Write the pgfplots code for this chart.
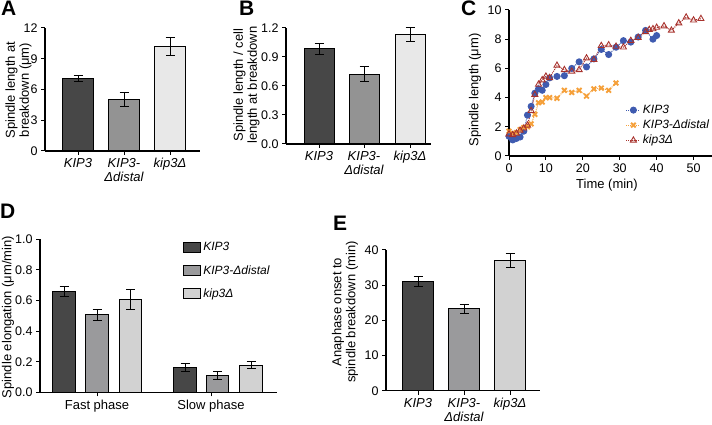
\documentclass[border=0pt]{standalone}
\usepackage{pgfplots}
\pgfplotsset{compat=1.18}
\usepackage{fontspec}
\setmainfont{Liberation Sans}
\definecolor{cdark}{HTML}{474747}
\definecolor{cmid}{HTML}{939393}
\definecolor{clight}{HTML}{E8E8E8}
\definecolor{dmid}{HTML}{9A9A9C}
\definecolor{dlight}{HTML}{D2D2D2}
\definecolor{cblue}{HTML}{3F5BB0}
\definecolor{corange}{HTML}{F5A03A}
\definecolor{cred}{HTML}{A8322D}
\pgfplotsset{
  gp/.style={scale only axis, anchor=south west, clip=false,
    axis x line*=bottom, axis y line*=left,
    axis line style={-, line width=1.1pt, black},
    tick align=outside, major tick length=4pt,
    tick style={line width=1pt, black},
    tick label style={font=\fontsize{12.5}{14}\selectfont},
    /pgf/number format/assume math mode=true},
  gpbar/.style={ybar, bar shift=0pt, draw=black, line width=1pt,
    /pgfplots/error bars/y dir=both, /pgfplots/error bars/y explicit,
    /pgfplots/error bars/error bar style={line width=1pt, black},
    /pgfplots/error bars/error mark options={rotate=90, mark size=4.5pt, line width=1pt, black}},
  catlab/.style={xticklabel style={align=center, font=\fontsize{13}{14}\selectfont\itshape}},
}
\begin{document}
\begin{tikzpicture}
\useasboundingbox (0pt,0pt) rectangle (712pt,425pt);
% ---------------- A
\begin{axis}[gp, catlab, at={(45pt,274pt)}, width=155pt, height=123pt,
  xmin=45, xmax=200, ymin=0, ymax=12, ytick={0,3,6,9,12},
  xtick={78,124,170}, xticklabels={KIP3,{KIP3-\\Δdistal},kip3Δ}]
\addplot[gpbar, bar width=31pt, fill=cdark] coordinates {(78,7.1) +- (0,0.3)};
\addplot[gpbar, bar width=31pt, fill=cmid] coordinates {(124,5.0) +- (0,0.7)};
\addplot[gpbar, bar width=31pt, fill=clight] coordinates {(170,10.2) +- (0,0.9)};
\end{axis}
% ---------------- B
\begin{axis}[gp, catlab, at={(286pt,281pt)}, width=145pt, height=116pt,
  xmin=286, xmax=431, ymin=0, ymax=1.2, ytick={0,0.3,0.6,0.9,1.2},
  yticklabel style={/pgf/number format/.cd, fixed, fixed zerofill, precision=1},
  xtick={319,364,410}, xticklabels={KIP3,{KIP3-\\Δdistal},kip3Δ}]
\addplot[gpbar, bar width=30pt, fill=cdark] coordinates {(319,0.985) +- (0,0.057)};
\addplot[gpbar, bar width=30pt, fill=cmid] coordinates {(364,0.72) +- (0,0.078)};
\addplot[gpbar, bar width=30pt, fill=clight] coordinates {(410,1.13) +- (0,0.07)};
\end{axis}
% ---------------- C
\begin{axis}[gp, at={(509pt,269pt)}, width=203pt, height=146pt,
  xmin=0, xmax=55, ymin=0, ymax=10, xtick={0,10,...,50}, ytick={0,2,...,10},
  legend style={at={(0.57,0.37)}, anchor=north west, draw=none, fill=none,
    font=\fontsize{12}{13}\selectfont\itshape, inner sep=1pt, row sep=1pt},
  legend cell align=left,
  legend image code/.code={\draw[mark repeat=2,mark phase=2,#1] plot coordinates {(0pt,0pt) (7pt,0pt) (14pt,0pt)};}]
\addplot[cblue, densely dotted, line width=1pt, mark=*, mark size=3pt, mark options={solid}] coordinates {
(0,1.35)(1,1.1)(2,1.2)(3,1.3)(4,1.7)(5,2.8)(6,3.4)(7,4.3)(8,4.6)(9,4.5)(10,4.9)(11,5.35)(13,5.45)(15,5.5)(17,6.0)(19,6.45)(21,6.1)(23,6.65)(25,7.3)(27,6.95)(29,7.45)(31,7.9)(33,7.8)(35,8.15)(37,8.6)(39,8.0)(40,8.25)};
\addlegendentry{KIP3}
\addplot[corange, densely dotted, line width=1pt, mark=x, mark size=3.3pt, mark options={solid, line width=1.9pt}] coordinates {
(0,1.7)(1,1.55)(2,1.6)(3,1.8)(4,1.95)(5,2.0)(6,2.2)(7,2.85)(8,3.65)(9,3.7)(10,4.0)(11,4.0)(13,3.95)(15,4.5)(17,4.35)(19,4.5)(21,4.1)(23,4.6)(25,4.65)(27,4.5)(29,5.0)};
\addlegendentry{KIP3-Δdistal}
\addplot[cred, densely dotted, line width=1pt, mark=triangle, mark size=3.5pt, mark options={solid, line width=0.9pt, fill=white}] coordinates {
(0,1.5)(1,1.45)(2,1.55)(3,1.75)(4,1.9)(5,2.1)(6,3.1)(7,4.2)(8,4.9)(9,5.2)(10,5.45)(11,5.35)(13,6.2)(15,5.9)(17,5.8)(19,5.9)(21,6.7)(23,6.6)(25,7.55)(27,7.6)(29,7.5)(31,7.45)(33,7.9)(35,8.1)(37,8.5)(38,8.65)(39,8.7)(40,8.8)(42,8.9)(44,8.6)(46,9.1)(48,9.5)(50,9.3)(52,9.4)};
\addlegendentry{kip3Δ}
\end{axis}
% ---------------- D
\begin{axis}[gp, at={(40pt,32.7pt)}, width=237pt, height=153pt,
  xmin=40, xmax=277, ymin=0, ymax=1, ytick={0,0.2,0.4,0.6,0.8,1.0},
  yticklabel style={/pgf/number format/.cd, fixed, fixed zerofill, precision=1},
  xtick={97,211}, xticklabels={Fast phase,Slow phase},
  xticklabel style={font=\fontsize{13}{14}\selectfont},
  legend style={at={(0.6,1.0)}, anchor=north west, draw=none, fill=none,
    font=\fontsize{12}{13}\selectfont\itshape, inner sep=1pt, row sep=9pt},
  legend cell align=left,
  legend image code/.code={\draw[#1, draw=black, line width=1pt] (0pt,-5pt) rectangle (17pt,5pt);}]
\addplot[gpbar, bar width=22.5pt, fill=cdark] coordinates {(64,0.657) +- (0,0.033) (185,0.163) +- (0,0.026)};
\addlegendentry{KIP3}
\addplot[gpbar, bar width=22.5pt, fill=dmid] coordinates {(97,0.507) +- (0,0.035) (217.5,0.111) +- (0,0.025)};
\addlegendentry{KIP3-Δdistal}
\addplot[gpbar, bar width=22.5pt, fill=dlight] coordinates {(130.5,0.605) +- (0,0.065) (251,0.178) +- (0,0.025)};
\addlegendentry{kip3Δ}
\end{axis}
% ---------------- E
\begin{axis}[gp, catlab, at={(386pt,34.3pt)}, width=154pt, height=140.7pt,
  xmin=386, xmax=540, ymin=0, ymax=40, ytick={0,10,20,30,40},
  xtick={418,464,510}, xticklabels={KIP3,{KIP3-\\Δdistal},kip3Δ}]
\addplot[gpbar, bar width=30.7pt, fill=cdark] coordinates {(418,31.0) +- (0,1.5)};
\addplot[gpbar, bar width=30.7pt, fill=dmid] coordinates {(464,23.3) +- (0,1.25)};
\addplot[gpbar, bar width=30.7pt, fill=dlight] coordinates {(510,37.0) +- (0,1.95)};
\end{axis}
% ---------------- labels
\begin{scope}[every node/.style={font=\fontsize{13}{14}\selectfont, align=center, inner sep=0pt}]
\node[rotate=90] at (18.5pt,335pt) {Spindle length at\\breakdown (μm)};
\node[rotate=90] at (246.5pt,340pt) {Spindle length / cell\\length at breakdown};
\node[rotate=90] at (475pt,335pt) {Spindle length (μm)};
\node at (607pt,240pt) {Time (min)};
\node[rotate=90] at (8pt,108pt) {Spindle elongation (μm/min)};
\node[rotate=90] at (345pt,113pt) {Anaphase onset to\\spindle breakdown (min)};
\end{scope}
\begin{scope}[every node/.style={font=\fontsize{21}{22}\selectfont\bfseries, inner sep=0pt, anchor=north west}]
\node at (1pt,424pt) {A};
\node at (239pt,424pt) {B};
\node at (461pt,424pt) {C};
\node at (0pt,221pt) {D};
\node at (333pt,209pt) {E};
\end{scope}
\end{tikzpicture}
\end{document}
